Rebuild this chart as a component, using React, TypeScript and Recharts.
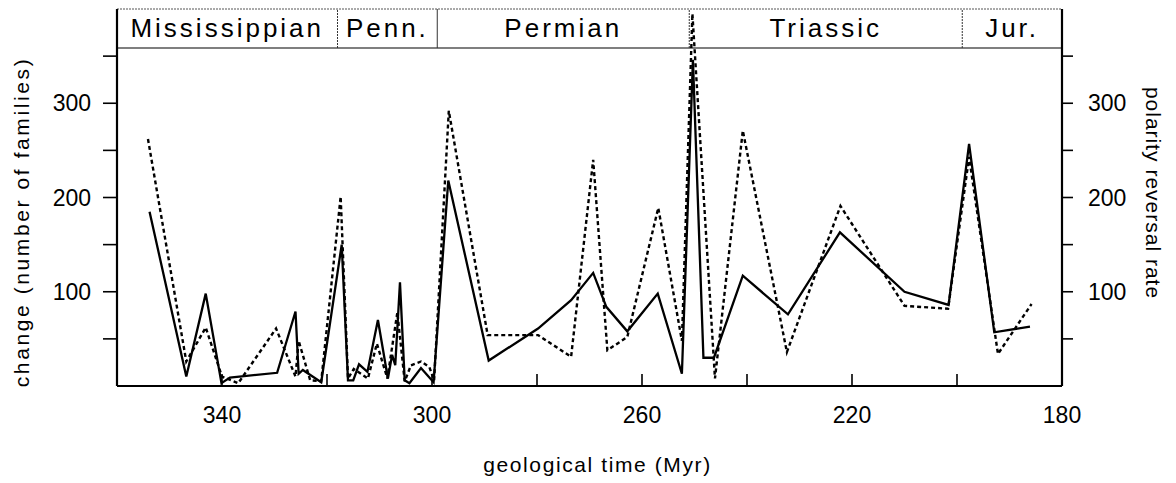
import {
  LineChart,
  Line,
  XAxis,
  YAxis,
  ReferenceArea,
  ReferenceLine,
} from 'recharts';

// change in number of families, by age (Myr)
const familyAges = [
  353.8, 346.8, 343.1, 340.1, 338.5, 329.5, 326.0, 325.4, 324.6, 321.1,
  317.2, 316.0, 315.0, 313.9, 312.3, 310.3, 308.4, 307.6, 307.0, 306.1,
  305.2, 304.3, 302.1, 299.7, 296.9, 289.2, 279.8, 273.5, 269.3, 266.8,
  262.8, 257.0, 252.4, 250.3, 248.3, 246.3, 240.8, 232.2, 222.3, 210.0,
  201.6, 197.7, 192.9, 186.1,
];
const familyChange = [
  185, 10, 98, 3, 9, 14, 79, 13, 17, 4,
  150, 6, 6, 23, 15, 70, 8, 33, 22, 110,
  6, 3, 19, 4, 218, 27, 61, 91, 120, 84,
  58, 98, 13, 346, 30, 30, 117, 76, 163, 100,
  86, 257, 57, 63,
];

// geomagnetic polarity reversal rate, by age (Myr)
const reversalAges = [
  354.1, 346.8, 343.1, 340.0, 336.9, 329.7, 326.0, 325.4, 323.2, 321.1,
  317.4, 316.0, 314.9, 312.2, 310.5, 308.5, 306.6, 305.2, 304.0, 302.1,
  300.5, 299.6, 296.8, 289.4, 279.8, 273.5, 269.3, 266.6, 262.8, 256.9,
  252.4, 250.4, 246.1, 240.8, 232.4, 222.2, 210.0, 201.7, 197.7, 192.2,
  185.8,
];
const reversalRate = [
  262, 26, 62, 10, 3, 61, 10, 48, 6, 5,
  201, 8, 18, 8, 45, 8, 78, 5, 22, 26,
  20, 6, 292, 54, 54, 31, 240, 38, 52, 189,
  48, 395, 8, 271, 36, 191, 85, 82, 243, 34,
  87,
];

const periods = ['Mississippian', 'Penn.', 'Permian', 'Triassic', 'Jur.'];
const periodBounds = [360, 318, 299, 251, 199, 180];

const xTicks = [360, 340, 320, 300, 280, 260, 240, 220, 200, 180];
const yTicks = [50, 100, 150, 200, 250, 300, 350];

const familyData = familyAges.map((t, i) => ({ t, v: familyChange[i] }));
const reversalData = reversalAges.map((t, i) => ({ t, v: reversalRate[i] }));

const FONT = '"Liberation Sans", Arial, Helvetica, sans-serif';
const Y_MAX = 400;
const BAND_LOW = 358.6; // bottom edge of the period strip, in y units

function XTick(props: any) {
  const { x, y, payload } = props;
  const v = payload.value;
  return (
    <g>
      {v !== 360 && v !== 180 && (
        <line x1={x} x2={x} y1={y} y2={y - 12} stroke="#000" strokeWidth={1.6} />
      )}
      {v % 40 === 20 && (
        <text x={x} y={y + 37} textAnchor="middle" fontSize={23} fontFamily={FONT} fill="#000">
          {v}
        </text>
      )}
    </g>
  );
}

function LeftTick(props: any) {
  const { x, y, payload } = props;
  if (payload.value % 100 !== 0) return <g />;
  return (
    <text x={x} y={y + 8} textAnchor="end" fontSize={23} fontFamily={FONT} fill="#000">
      {payload.value}
    </text>
  );
}

function RightTick(props: any) {
  const { x, y, payload } = props;
  if (payload.value % 100 !== 0) return <g />;
  return (
    <text x={x} y={y + 8} textAnchor="start" fontSize={23} fontFamily={FONT} fill="#000">
      {payload.value}
    </text>
  );
}

export default function App() {
  return (
    <div style={{ position: 'absolute', left: 0, top: 0, width: 1176, height: 483, background: '#fff' }}>
      <LineChart
        width={1176}
        height={483}
        margin={{ top: 9, right: 0, bottom: 0, left: 0 }}
      >
        <XAxis
          dataKey="t"
          type="number"
          domain={[180, 360]}
          reversed
          ticks={xTicks}
          interval={0}
          tickSize={0}
          tickMargin={0}
          tickLine={false}
          tick={<XTick />}
          height={97}
          axisLine={{ stroke: '#000', strokeWidth: 2.2 }}
          allowDataOverflow
          label={{
            content: ({ viewBox }: any) => (
              <text
                x={viewBox.x + viewBox.width / 2 + 8}
                y={viewBox.y + 86}
                textAnchor="middle"
                fontSize={21}
                fontFamily={FONT}
                style={{ letterSpacing: 1.6 }}
                fill="#000"
              >
                geological time (Myr)
              </text>
            ),
          }}
        />
        <YAxis
          yAxisId="left"
          type="number"
          domain={[0, Y_MAX]}
          ticks={yTicks}
          interval={0}
          width={117}
          tickSize={14}
          tickMargin={12}
          tickLine={{ stroke: '#000', strokeWidth: 1.6 }}
          tick={<LeftTick />}
          axisLine={{ stroke: '#000', strokeWidth: 2.2 }}
          allowDataOverflow
          label={{
            content: () => (
              <text
                x={29}
                y={222}
                transform="rotate(-90, 29, 222)"
                textAnchor="middle"
                fontSize={21}
                fontFamily={FONT}
                style={{ letterSpacing: 2.6 }}
                fill="#000"
              >
                change (number of families)
              </text>
            ),
          }}
        />
        <YAxis
          yAxisId="right"
          orientation="right"
          type="number"
          domain={[0, Y_MAX]}
          ticks={yTicks}
          interval={0}
          width={114}
          tickSize={11}
          tickMargin={15}
          tickLine={{ stroke: '#000', strokeWidth: 1.6 }}
          tick={<RightTick />}
          axisLine={{ stroke: '#000', strokeWidth: 2.2 }}
          allowDataOverflow
          label={{
            content: () => (
              <text
                x={1146}
                y={193}
                transform="rotate(90, 1146, 193)"
                textAnchor="middle"
                fontSize={21}
                fontFamily={FONT}
                style={{ letterSpacing: 1 }}
                fill="#000"
              >
                polarity reversal rate
              </text>
            ),
          }}
        />

        {/* geological period strip along the top */}
        {periods.map((name, i) => (
          <ReferenceArea
            key={name}
            yAxisId="left"
            x1={periodBounds[i]}
            x2={periodBounds[i + 1]}
            y1={BAND_LOW}
            y2={Y_MAX}
            fill="#fff"
            fillOpacity={0}
            stroke="none"
            label={{
              content: ({ viewBox }: any) => (
                <text
                  x={viewBox.x + viewBox.width / 2}
                  y={37}
                  textAnchor="middle"
                  fontSize={26}
                  fontFamily={FONT}
                  style={{ letterSpacing: 3 }}
                  fill="#000"
                >
                  {name}
                </text>
              ),
            }}
          />
        ))}
        <ReferenceLine yAxisId="left" y={BAND_LOW} stroke="#000" strokeWidth={1.2} />
        <ReferenceLine yAxisId="left" y={Y_MAX} stroke="#555" strokeWidth={1} strokeDasharray="2 1" />
        {periodBounds.slice(1, -1).map((b, i) => (
          <ReferenceLine
            key={b}
            yAxisId="left"
            segment={[
              { x: b, y: BAND_LOW },
              { x: b, y: Y_MAX },
            ]}
            stroke="#333"
            strokeWidth={1}
            strokeDasharray={i === 1 ? undefined : '2 1'}
          />
        ))}

        <Line
          yAxisId="left"
          data={familyData}
          dataKey="v"
          type="linear"
          stroke="#000"
          strokeWidth={2.3}
          dot={false}
          activeDot={false}
          isAnimationActive={false}
        />
        <Line
          yAxisId="right"
          data={reversalData}
          dataKey="v"
          type="linear"
          stroke="#000"
          strokeWidth={2.4}
          strokeDasharray="4 3"
          dot={false}
          activeDot={false}
          isAnimationActive={false}
        />
      </LineChart>
    </div>
  );
}
